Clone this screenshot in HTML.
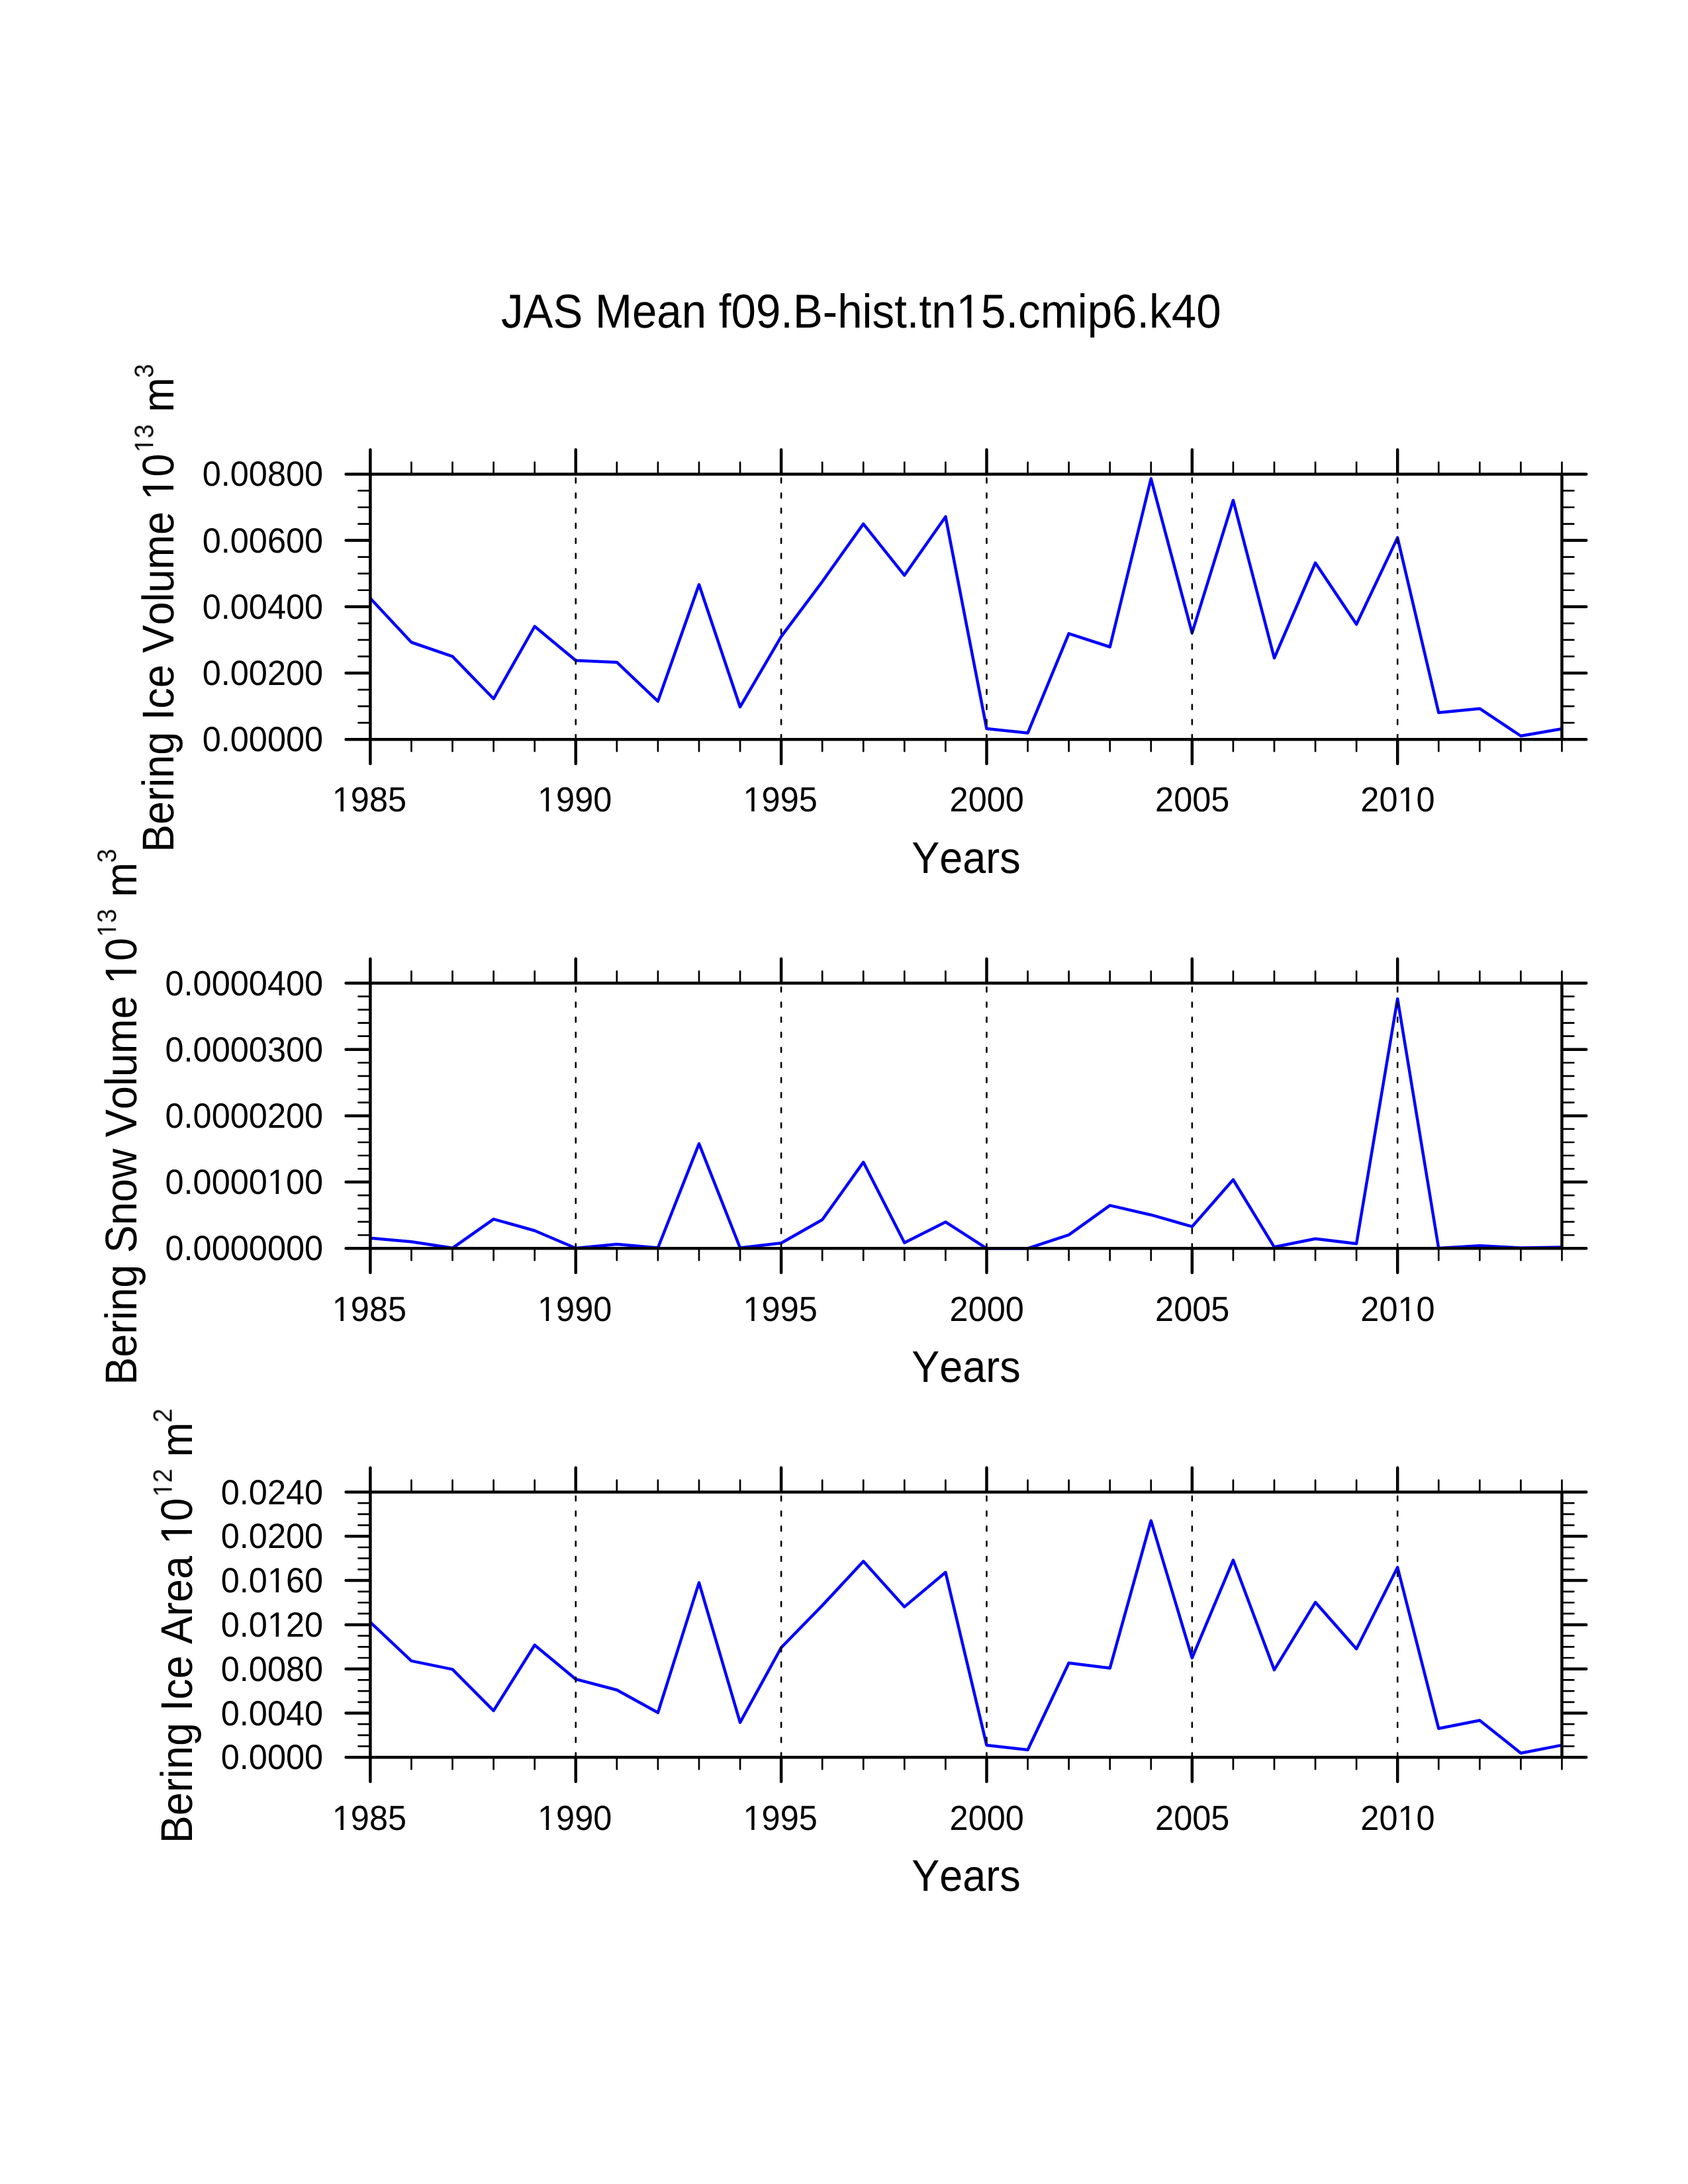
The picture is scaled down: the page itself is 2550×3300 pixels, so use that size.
<!DOCTYPE html><html><head><meta charset="utf-8"><title>JAS Mean f09.B-hist.tn15.cmip6.k40</title>
<style>html,body{margin:0;padding:0;background:#fff;}svg{display:block;}text{font-family:"Liberation Sans",sans-serif;font-kerning:none;fill:#000;text-rendering:geometricPrecision;}</style></head><body>
<svg width="2550" height="3300" viewBox="0 0 2550 3300">
<defs><filter id="gs" x="-20%" y="-20%" width="140%" height="140%"><feColorMatrix type="saturate" values="0"/></filter></defs><rect width="2550" height="3300" fill="#fff"/>
<g transform="translate(756.95,495.3) scale(1,1.068)"><text x="0 33.62 78.47 123.32 142 198.01 235.41 272.8 310.2 328.88 347.56 384.96 422.35 441.03 485.88 508.27 545.67 560.61 594.23 612.91 631.59 650.27 687.67 725.06 762.46 781.14 814.76 870.77 885.71 923.11 960.5 979.18 1012.8 1050.2" y="0" font-size="67.24">JAS Mean f09.B-hist.tn15.cmip6.k40</text><rect x="691.48" y="-6.57" width="13.1" height="7.55" fill="#fff"/><rect x="710.52" y="-6.57" width="12.57" height="7.55" fill="#fff"/></g>
<polyline points="559.4,904 621.47,970.5 683.54,991.9 745.62,1055.8 807.69,946.5 869.76,998.1 931.83,1000.7 993.91,1059.6 1055.98,883.3 1118.05,1068.2 1180.12,961.9 1242.2,878.8 1304.27,791.6 1366.34,869.3 1428.41,780.7 1490.49,1101 1552.56,1107.6 1614.63,957.3 1676.7,977.5 1738.78,723.3 1800.85,956.3 1862.92,756 1924.99,994.3 1987.07,850.5 2049.14,943.3 2111.21,812.4 2173.28,1076.8 2235.36,1070.7 2297.43,1112 2359.5,1101.3" fill="none" stroke="#0000ff" stroke-width="4.5" stroke-linejoin="round"/>
<line x1="869.76" y1="722.6" x2="869.76" y2="1116.2" stroke="#000" stroke-width="2.6" stroke-linecap="round" stroke-dasharray="6.9 15.91"/>
<line x1="1180.12" y1="722.6" x2="1180.12" y2="1116.2" stroke="#000" stroke-width="2.6" stroke-linecap="round" stroke-dasharray="6.9 15.91"/>
<line x1="1490.49" y1="722.6" x2="1490.49" y2="1116.2" stroke="#000" stroke-width="2.6" stroke-linecap="round" stroke-dasharray="6.9 15.91"/>
<line x1="1800.85" y1="722.6" x2="1800.85" y2="1116.2" stroke="#000" stroke-width="2.6" stroke-linecap="round" stroke-dasharray="6.9 15.91"/>
<line x1="2111.21" y1="722.6" x2="2111.21" y2="1116.2" stroke="#000" stroke-width="2.6" stroke-linecap="round" stroke-dasharray="6.9 15.91"/>
<path d="M621.47 716.4v-17.9M621.47 1117.2v17.9M683.54 716.4v-17.9M683.54 1117.2v17.9M745.62 716.4v-17.9M745.62 1117.2v17.9M807.69 716.4v-17.9M807.69 1117.2v17.9M931.83 716.4v-17.9M931.83 1117.2v17.9M993.91 716.4v-17.9M993.91 1117.2v17.9M1055.98 716.4v-17.9M1055.98 1117.2v17.9M1118.05 716.4v-17.9M1118.05 1117.2v17.9M1242.2 716.4v-17.9M1242.2 1117.2v17.9M1304.27 716.4v-17.9M1304.27 1117.2v17.9M1366.34 716.4v-17.9M1366.34 1117.2v17.9M1428.41 716.4v-17.9M1428.41 1117.2v17.9M1552.56 716.4v-17.9M1552.56 1117.2v17.9M1614.63 716.4v-17.9M1614.63 1117.2v17.9M1676.7 716.4v-17.9M1676.7 1117.2v17.9M1738.78 716.4v-17.9M1738.78 1117.2v17.9M1862.92 716.4v-17.9M1862.92 1117.2v17.9M1924.99 716.4v-17.9M1924.99 1117.2v17.9M1987.07 716.4v-17.9M1987.07 1117.2v17.9M2049.14 716.4v-17.9M2049.14 1117.2v17.9M2173.28 716.4v-17.9M2173.28 1117.2v17.9M2235.36 716.4v-17.9M2235.36 1117.2v17.9M2297.43 716.4v-17.9M2297.43 1117.2v17.9M2359.5 716.4v-17.9M2359.5 1117.2v17.9M559.4 1092.15h-17.9M2359.5 1092.15h17.9M559.4 1067.1h-17.9M2359.5 1067.1h17.9M559.4 1042.05h-17.9M2359.5 1042.05h17.9M559.4 991.95h-17.9M2359.5 991.95h17.9M559.4 966.9h-17.9M2359.5 966.9h17.9M559.4 941.85h-17.9M2359.5 941.85h17.9M559.4 891.75h-17.9M2359.5 891.75h17.9M559.4 866.7h-17.9M2359.5 866.7h17.9M559.4 841.65h-17.9M2359.5 841.65h17.9M559.4 791.55h-17.9M2359.5 791.55h17.9M559.4 766.5h-17.9M2359.5 766.5h17.9M559.4 741.45h-17.9M2359.5 741.45h17.9" stroke="#000" stroke-width="2.7" stroke-linecap="round" fill="none"/>
<path d="M559.4 716.4v-36.8M559.4 1117.2v36.8M869.76 716.4v-36.8M869.76 1117.2v36.8M1180.12 716.4v-36.8M1180.12 1117.2v36.8M1490.49 716.4v-36.8M1490.49 1117.2v36.8M1800.85 716.4v-36.8M1800.85 1117.2v36.8M2111.21 716.4v-36.8M2111.21 1117.2v36.8M559.4 1117.2h-36.8M2359.5 1117.2h36.8M559.4 1017h-36.8M2359.5 1017h36.8M559.4 916.8h-36.8M2359.5 916.8h36.8M559.4 816.6h-36.8M2359.5 816.6h36.8M559.4 716.4h-36.8M2359.5 716.4h36.8M559.4 716.4H2359.5 V1117.2 H559.4 Z" stroke="#000" stroke-width="4.5" stroke-linecap="round" stroke-linejoin="miter" fill="none"/>
<g transform="translate(488.2,734.4) scale(1,1.053)"><text x="-182.54 -154.46 -140.43 -112.34 -84.26 -56.17 -28.09" y="0" font-size="50.5">0.00800</text></g>
<g transform="translate(488.2,834.6) scale(1,1.053)"><text x="-182.54 -154.46 -140.43 -112.34 -84.26 -56.17 -28.09" y="0" font-size="50.5">0.00600</text></g>
<g transform="translate(488.2,934.8) scale(1,1.053)"><text x="-182.54 -154.46 -140.43 -112.34 -84.26 -56.17 -28.09" y="0" font-size="50.5">0.00400</text></g>
<g transform="translate(488.2,1035) scale(1,1.053)"><text x="-182.54 -154.46 -140.43 -112.34 -84.26 -56.17 -28.09" y="0" font-size="50.5">0.00200</text></g>
<g transform="translate(488.2,1135.2) scale(1,1.053)"><text x="-182.54 -154.46 -140.43 -112.34 -84.26 -56.17 -28.09" y="0" font-size="50.5">0.00000</text></g>
<g transform="translate(557.91,1226.4) scale(1,1.042)"><text x="-56.17 -28.09 0 28.09" y="0" font-size="50.5">1985</text><rect x="-53.31" y="-4.93" width="9.84" height="5.67" fill="#fff"/><rect x="-39.01" y="-4.93" width="9.44" height="5.67" fill="#fff"/></g>
<g transform="translate(868.15,1226.4) scale(1,1.042)"><text x="-56.17 -28.09 0 28.09" y="0" font-size="50.5">1990</text><rect x="-53.31" y="-4.93" width="9.84" height="5.67" fill="#fff"/><rect x="-39.01" y="-4.93" width="9.44" height="5.67" fill="#fff"/></g>
<g transform="translate(1178.63,1226.4) scale(1,1.042)"><text x="-56.17 -28.09 0 28.09" y="0" font-size="50.5">1995</text><rect x="-53.31" y="-4.93" width="9.84" height="5.67" fill="#fff"/><rect x="-39.01" y="-4.93" width="9.44" height="5.67" fill="#fff"/></g>
<g transform="translate(1490.76,1226.4) scale(1,1.042)"><text x="-56.17 -28.09 0 28.09" y="0" font-size="50.5">2000</text></g>
<g transform="translate(1801.25,1226.4) scale(1,1.042)"><text x="-56.17 -28.09 0 28.09" y="0" font-size="50.5">2005</text></g>
<g transform="translate(2111.49,1226.4) scale(1,1.042)"><text x="-56.17 -28.09 0 28.09" y="0" font-size="50.5">2010</text><rect x="2.86" y="-4.93" width="9.84" height="5.67" fill="#fff"/><rect x="17.16" y="-4.93" width="9.44" height="5.67" fill="#fff"/></g>
<g transform="translate(1459.45,1318.5) scale(1,1.061)"><text x="-82.29 -40.27 -5.23 29.81 50.79" y="0" font-size="63">Years</text></g>
<g transform="translate(262.3,1287.77) rotate(-90)">
<g transform="translate(0,0) scale(1,1.066)"><text x="0 42.02 77.06 98.04 112.03 147.07 182.11 199.61 217.12 248.62 283.65 301.16 343.18 378.22 392.21 427.25 479.73 514.77 532.27 567.31" y="0" font-size="63">Bering Ice Volume 10</text><rect x="535.84" y="-6.15" width="12.27" height="7.08" fill="#fff"/><rect x="553.68" y="-6.15" width="11.78" height="7.08" fill="#fff"/></g>
<g transform="translate(604.3,-31) scale(1,1.056)"><text x="0 21.13" y="0" font-size="38" filter="url(#gs)">13</text><rect x="2.15" y="-3.71" width="7.4" height="4.27" fill="#fff"/><rect x="12.91" y="-3.71" width="7.11" height="4.27" fill="#fff"/></g>
<g transform="translate(665.1,0) scale(1,1.066)"><text x="0" y="0" font-size="63">m</text></g>
<g transform="translate(716.7,-31) scale(1,1.056)"><text x="0" y="0" font-size="38" filter="url(#gs)">3</text></g>
</g>
<polyline points="559.4,1870.7 621.47,1876.2 683.54,1885.8 745.62,1842.1 807.69,1859.5 869.76,1886 931.83,1879.9 993.91,1885.5 1055.98,1728.1 1118.05,1885.5 1180.12,1878.3 1242.2,1843 1304.27,1756.1 1366.34,1877.8 1428.41,1846.4 1490.49,1886.3 1552.56,1886.3 1614.63,1865.9 1676.7,1821.4 1738.78,1835.7 1800.85,1853.4 1862.92,1782.5 1924.99,1884.3 1987.07,1871.7 2049.14,1879.2 2111.21,1509.2 2173.28,1886 2235.36,1882.3 2297.43,1885.6 2359.5,1884.6" fill="none" stroke="#0000ff" stroke-width="4.5" stroke-linejoin="round"/>
<line x1="869.76" y1="1491.7" x2="869.76" y2="1885.3" stroke="#000" stroke-width="2.6" stroke-linecap="round" stroke-dasharray="6.9 15.91"/>
<line x1="1180.12" y1="1491.7" x2="1180.12" y2="1885.3" stroke="#000" stroke-width="2.6" stroke-linecap="round" stroke-dasharray="6.9 15.91"/>
<line x1="1490.49" y1="1491.7" x2="1490.49" y2="1885.3" stroke="#000" stroke-width="2.6" stroke-linecap="round" stroke-dasharray="6.9 15.91"/>
<line x1="1800.85" y1="1491.7" x2="1800.85" y2="1885.3" stroke="#000" stroke-width="2.6" stroke-linecap="round" stroke-dasharray="6.9 15.91"/>
<line x1="2111.21" y1="1491.7" x2="2111.21" y2="1885.3" stroke="#000" stroke-width="2.6" stroke-linecap="round" stroke-dasharray="6.9 15.91"/>
<path d="M621.47 1485.5v-17.9M621.47 1886.3v17.9M683.54 1485.5v-17.9M683.54 1886.3v17.9M745.62 1485.5v-17.9M745.62 1886.3v17.9M807.69 1485.5v-17.9M807.69 1886.3v17.9M931.83 1485.5v-17.9M931.83 1886.3v17.9M993.91 1485.5v-17.9M993.91 1886.3v17.9M1055.98 1485.5v-17.9M1055.98 1886.3v17.9M1118.05 1485.5v-17.9M1118.05 1886.3v17.9M1242.2 1485.5v-17.9M1242.2 1886.3v17.9M1304.27 1485.5v-17.9M1304.27 1886.3v17.9M1366.34 1485.5v-17.9M1366.34 1886.3v17.9M1428.41 1485.5v-17.9M1428.41 1886.3v17.9M1552.56 1485.5v-17.9M1552.56 1886.3v17.9M1614.63 1485.5v-17.9M1614.63 1886.3v17.9M1676.7 1485.5v-17.9M1676.7 1886.3v17.9M1738.78 1485.5v-17.9M1738.78 1886.3v17.9M1862.92 1485.5v-17.9M1862.92 1886.3v17.9M1924.99 1485.5v-17.9M1924.99 1886.3v17.9M1987.07 1485.5v-17.9M1987.07 1886.3v17.9M2049.14 1485.5v-17.9M2049.14 1886.3v17.9M2173.28 1485.5v-17.9M2173.28 1886.3v17.9M2235.36 1485.5v-17.9M2235.36 1886.3v17.9M2297.43 1485.5v-17.9M2297.43 1886.3v17.9M2359.5 1485.5v-17.9M2359.5 1886.3v17.9M559.4 1866.26h-17.9M2359.5 1866.26h17.9M559.4 1846.22h-17.9M2359.5 1846.22h17.9M559.4 1826.18h-17.9M2359.5 1826.18h17.9M559.4 1806.14h-17.9M2359.5 1806.14h17.9M559.4 1766.06h-17.9M2359.5 1766.06h17.9M559.4 1746.02h-17.9M2359.5 1746.02h17.9M559.4 1725.98h-17.9M2359.5 1725.98h17.9M559.4 1705.94h-17.9M2359.5 1705.94h17.9M559.4 1665.86h-17.9M2359.5 1665.86h17.9M559.4 1645.82h-17.9M2359.5 1645.82h17.9M559.4 1625.78h-17.9M2359.5 1625.78h17.9M559.4 1605.74h-17.9M2359.5 1605.74h17.9M559.4 1565.66h-17.9M2359.5 1565.66h17.9M559.4 1545.62h-17.9M2359.5 1545.62h17.9M559.4 1525.58h-17.9M2359.5 1525.58h17.9M559.4 1505.54h-17.9M2359.5 1505.54h17.9" stroke="#000" stroke-width="2.7" stroke-linecap="round" fill="none"/>
<path d="M559.4 1485.5v-36.8M559.4 1886.3v36.8M869.76 1485.5v-36.8M869.76 1886.3v36.8M1180.12 1485.5v-36.8M1180.12 1886.3v36.8M1490.49 1485.5v-36.8M1490.49 1886.3v36.8M1800.85 1485.5v-36.8M1800.85 1886.3v36.8M2111.21 1485.5v-36.8M2111.21 1886.3v36.8M559.4 1886.3h-36.8M2359.5 1886.3h36.8M559.4 1786.1h-36.8M2359.5 1786.1h36.8M559.4 1685.9h-36.8M2359.5 1685.9h36.8M559.4 1585.7h-36.8M2359.5 1585.7h36.8M559.4 1485.5h-36.8M2359.5 1485.5h36.8M559.4 1485.5H2359.5 V1886.3 H559.4 Z" stroke="#000" stroke-width="4.5" stroke-linecap="round" stroke-linejoin="miter" fill="none"/>
<g transform="translate(488.2,1503.5) scale(1,1.053)"><text x="-238.72 -210.63 -196.6 -168.51 -140.43 -112.34 -84.26 -56.17 -28.09" y="0" font-size="50.5">0.0000400</text></g>
<g transform="translate(488.2,1603.7) scale(1,1.053)"><text x="-238.72 -210.63 -196.6 -168.51 -140.43 -112.34 -84.26 -56.17 -28.09" y="0" font-size="50.5">0.0000300</text></g>
<g transform="translate(488.2,1703.9) scale(1,1.053)"><text x="-238.72 -210.63 -196.6 -168.51 -140.43 -112.34 -84.26 -56.17 -28.09" y="0" font-size="50.5">0.0000200</text></g>
<g transform="translate(488.2,1804.1) scale(1,1.053)"><text x="-238.72 -210.63 -196.6 -168.51 -140.43 -112.34 -84.26 -56.17 -28.09" y="0" font-size="50.5">0.0000100</text><rect x="-81.4" y="-4.93" width="9.84" height="5.67" fill="#fff"/><rect x="-67.09" y="-4.93" width="9.44" height="5.67" fill="#fff"/></g>
<g transform="translate(488.2,1904.3) scale(1,1.053)"><text x="-238.72 -210.63 -196.6 -168.51 -140.43 -112.34 -84.26 -56.17 -28.09" y="0" font-size="50.5">0.0000000</text></g>
<g transform="translate(557.91,1995.5) scale(1,1.042)"><text x="-56.17 -28.09 0 28.09" y="0" font-size="50.5">1985</text><rect x="-53.31" y="-4.93" width="9.84" height="5.67" fill="#fff"/><rect x="-39.01" y="-4.93" width="9.44" height="5.67" fill="#fff"/></g>
<g transform="translate(868.15,1995.5) scale(1,1.042)"><text x="-56.17 -28.09 0 28.09" y="0" font-size="50.5">1990</text><rect x="-53.31" y="-4.93" width="9.84" height="5.67" fill="#fff"/><rect x="-39.01" y="-4.93" width="9.44" height="5.67" fill="#fff"/></g>
<g transform="translate(1178.63,1995.5) scale(1,1.042)"><text x="-56.17 -28.09 0 28.09" y="0" font-size="50.5">1995</text><rect x="-53.31" y="-4.93" width="9.84" height="5.67" fill="#fff"/><rect x="-39.01" y="-4.93" width="9.44" height="5.67" fill="#fff"/></g>
<g transform="translate(1490.76,1995.5) scale(1,1.042)"><text x="-56.17 -28.09 0 28.09" y="0" font-size="50.5">2000</text></g>
<g transform="translate(1801.25,1995.5) scale(1,1.042)"><text x="-56.17 -28.09 0 28.09" y="0" font-size="50.5">2005</text></g>
<g transform="translate(2111.49,1995.5) scale(1,1.042)"><text x="-56.17 -28.09 0 28.09" y="0" font-size="50.5">2010</text><rect x="2.86" y="-4.93" width="9.84" height="5.67" fill="#fff"/><rect x="17.16" y="-4.93" width="9.44" height="5.67" fill="#fff"/></g>
<g transform="translate(1459.45,2087.6) scale(1,1.061)"><text x="-82.29 -40.27 -5.23 29.81 50.79" y="0" font-size="63">Years</text></g>
<g transform="translate(206,2092.87) rotate(-90)">
<g transform="translate(0,0) scale(1,1.066)"><text x="0 42.02 77.06 98.04 112.03 147.07 182.11 199.61 241.63 276.67 311.71 357.21 374.71 416.73 451.77 465.76 500.8 553.28 588.32 605.82 640.86" y="0" font-size="63">Bering Snow Volume 10</text><rect x="609.39" y="-6.15" width="12.27" height="7.08" fill="#fff"/><rect x="627.23" y="-6.15" width="11.78" height="7.08" fill="#fff"/></g>
<g transform="translate(677.2,-30.9) scale(1,1.056)"><text x="0 21.13" y="0" font-size="38" filter="url(#gs)">13</text><rect x="2.15" y="-3.71" width="7.4" height="4.27" fill="#fff"/><rect x="12.91" y="-3.71" width="7.11" height="4.27" fill="#fff"/></g>
<g transform="translate(737.4,0) scale(1,1.066)"><text x="0" y="0" font-size="63">m</text></g>
<g transform="translate(789.2,-30.9) scale(1,1.056)"><text x="0" y="0" font-size="38" filter="url(#gs)">3</text></g>
</g>
<polyline points="559.4,2451.2 621.47,2509.6 683.54,2522.4 745.62,2584.9 807.69,2485.7 869.76,2537.2 931.83,2553.5 993.91,2587.8 1055.98,2391.4 1118.05,2602.7 1180.12,2489.5 1242.2,2425.9 1304.27,2359.1 1366.34,2427.9 1428.41,2375.8 1490.49,2636.9 1552.56,2644 1614.63,2512.8 1676.7,2520.6 1738.78,2297.7 1800.85,2505.2 1862.92,2357.3 1924.99,2523.2 1987.07,2421.1 2049.14,2491.4 2111.21,2368.2 2173.28,2611.8 2235.36,2599.5 2297.43,2649 2359.5,2636.9" fill="none" stroke="#0000ff" stroke-width="4.5" stroke-linejoin="round"/>
<line x1="869.76" y1="2260.7" x2="869.76" y2="2654.3" stroke="#000" stroke-width="2.6" stroke-linecap="round" stroke-dasharray="6.9 15.91"/>
<line x1="1180.12" y1="2260.7" x2="1180.12" y2="2654.3" stroke="#000" stroke-width="2.6" stroke-linecap="round" stroke-dasharray="6.9 15.91"/>
<line x1="1490.49" y1="2260.7" x2="1490.49" y2="2654.3" stroke="#000" stroke-width="2.6" stroke-linecap="round" stroke-dasharray="6.9 15.91"/>
<line x1="1800.85" y1="2260.7" x2="1800.85" y2="2654.3" stroke="#000" stroke-width="2.6" stroke-linecap="round" stroke-dasharray="6.9 15.91"/>
<line x1="2111.21" y1="2260.7" x2="2111.21" y2="2654.3" stroke="#000" stroke-width="2.6" stroke-linecap="round" stroke-dasharray="6.9 15.91"/>
<path d="M621.47 2254.5v-17.9M621.47 2655.3v17.9M683.54 2254.5v-17.9M683.54 2655.3v17.9M745.62 2254.5v-17.9M745.62 2655.3v17.9M807.69 2254.5v-17.9M807.69 2655.3v17.9M931.83 2254.5v-17.9M931.83 2655.3v17.9M993.91 2254.5v-17.9M993.91 2655.3v17.9M1055.98 2254.5v-17.9M1055.98 2655.3v17.9M1118.05 2254.5v-17.9M1118.05 2655.3v17.9M1242.2 2254.5v-17.9M1242.2 2655.3v17.9M1304.27 2254.5v-17.9M1304.27 2655.3v17.9M1366.34 2254.5v-17.9M1366.34 2655.3v17.9M1428.41 2254.5v-17.9M1428.41 2655.3v17.9M1552.56 2254.5v-17.9M1552.56 2655.3v17.9M1614.63 2254.5v-17.9M1614.63 2655.3v17.9M1676.7 2254.5v-17.9M1676.7 2655.3v17.9M1738.78 2254.5v-17.9M1738.78 2655.3v17.9M1862.92 2254.5v-17.9M1862.92 2655.3v17.9M1924.99 2254.5v-17.9M1924.99 2655.3v17.9M1987.07 2254.5v-17.9M1987.07 2655.3v17.9M2049.14 2254.5v-17.9M2049.14 2655.3v17.9M2173.28 2254.5v-17.9M2173.28 2655.3v17.9M2235.36 2254.5v-17.9M2235.36 2655.3v17.9M2297.43 2254.5v-17.9M2297.43 2655.3v17.9M2359.5 2254.5v-17.9M2359.5 2655.3v17.9M559.4 2638.6h-17.9M2359.5 2638.6h17.9M559.4 2621.9h-17.9M2359.5 2621.9h17.9M559.4 2605.2h-17.9M2359.5 2605.2h17.9M559.4 2571.8h-17.9M2359.5 2571.8h17.9M559.4 2555.1h-17.9M2359.5 2555.1h17.9M559.4 2538.4h-17.9M2359.5 2538.4h17.9M559.4 2505h-17.9M2359.5 2505h17.9M559.4 2488.3h-17.9M2359.5 2488.3h17.9M559.4 2471.6h-17.9M2359.5 2471.6h17.9M559.4 2438.2h-17.9M2359.5 2438.2h17.9M559.4 2421.5h-17.9M2359.5 2421.5h17.9M559.4 2404.8h-17.9M2359.5 2404.8h17.9M559.4 2371.4h-17.9M2359.5 2371.4h17.9M559.4 2354.7h-17.9M2359.5 2354.7h17.9M559.4 2338h-17.9M2359.5 2338h17.9M559.4 2304.6h-17.9M2359.5 2304.6h17.9M559.4 2287.9h-17.9M2359.5 2287.9h17.9M559.4 2271.2h-17.9M2359.5 2271.2h17.9" stroke="#000" stroke-width="2.7" stroke-linecap="round" fill="none"/>
<path d="M559.4 2254.5v-36.8M559.4 2655.3v36.8M869.76 2254.5v-36.8M869.76 2655.3v36.8M1180.12 2254.5v-36.8M1180.12 2655.3v36.8M1490.49 2254.5v-36.8M1490.49 2655.3v36.8M1800.85 2254.5v-36.8M1800.85 2655.3v36.8M2111.21 2254.5v-36.8M2111.21 2655.3v36.8M559.4 2655.3h-36.8M2359.5 2655.3h36.8M559.4 2588.5h-36.8M2359.5 2588.5h36.8M559.4 2521.7h-36.8M2359.5 2521.7h36.8M559.4 2454.9h-36.8M2359.5 2454.9h36.8M559.4 2388.1h-36.8M2359.5 2388.1h36.8M559.4 2321.3h-36.8M2359.5 2321.3h36.8M559.4 2254.5h-36.8M2359.5 2254.5h36.8M559.4 2254.5H2359.5 V2655.3 H559.4 Z" stroke="#000" stroke-width="4.5" stroke-linecap="round" stroke-linejoin="miter" fill="none"/>
<g transform="translate(488.2,2272.5) scale(1,1.053)"><text x="-154.46 -126.37 -112.34 -84.26 -56.17 -28.09" y="0" font-size="50.5">0.0240</text></g>
<g transform="translate(488.2,2339.3) scale(1,1.053)"><text x="-154.46 -126.37 -112.34 -84.26 -56.17 -28.09" y="0" font-size="50.5">0.0200</text></g>
<g transform="translate(488.2,2406.1) scale(1,1.053)"><text x="-154.46 -126.37 -112.34 -84.26 -56.17 -28.09" y="0" font-size="50.5">0.0160</text><rect x="-81.4" y="-4.93" width="9.84" height="5.67" fill="#fff"/><rect x="-67.09" y="-4.93" width="9.44" height="5.67" fill="#fff"/></g>
<g transform="translate(488.2,2472.9) scale(1,1.053)"><text x="-154.46 -126.37 -112.34 -84.26 -56.17 -28.09" y="0" font-size="50.5">0.0120</text><rect x="-81.4" y="-4.93" width="9.84" height="5.67" fill="#fff"/><rect x="-67.09" y="-4.93" width="9.44" height="5.67" fill="#fff"/></g>
<g transform="translate(488.2,2539.7) scale(1,1.053)"><text x="-154.46 -126.37 -112.34 -84.26 -56.17 -28.09" y="0" font-size="50.5">0.0080</text></g>
<g transform="translate(488.2,2606.5) scale(1,1.053)"><text x="-154.46 -126.37 -112.34 -84.26 -56.17 -28.09" y="0" font-size="50.5">0.0040</text></g>
<g transform="translate(488.2,2673.3) scale(1,1.053)"><text x="-154.46 -126.37 -112.34 -84.26 -56.17 -28.09" y="0" font-size="50.5">0.0000</text></g>
<g transform="translate(557.91,2764.5) scale(1,1.042)"><text x="-56.17 -28.09 0 28.09" y="0" font-size="50.5">1985</text><rect x="-53.31" y="-4.93" width="9.84" height="5.67" fill="#fff"/><rect x="-39.01" y="-4.93" width="9.44" height="5.67" fill="#fff"/></g>
<g transform="translate(868.15,2764.5) scale(1,1.042)"><text x="-56.17 -28.09 0 28.09" y="0" font-size="50.5">1990</text><rect x="-53.31" y="-4.93" width="9.84" height="5.67" fill="#fff"/><rect x="-39.01" y="-4.93" width="9.44" height="5.67" fill="#fff"/></g>
<g transform="translate(1178.63,2764.5) scale(1,1.042)"><text x="-56.17 -28.09 0 28.09" y="0" font-size="50.5">1995</text><rect x="-53.31" y="-4.93" width="9.84" height="5.67" fill="#fff"/><rect x="-39.01" y="-4.93" width="9.44" height="5.67" fill="#fff"/></g>
<g transform="translate(1490.76,2764.5) scale(1,1.042)"><text x="-56.17 -28.09 0 28.09" y="0" font-size="50.5">2000</text></g>
<g transform="translate(1801.25,2764.5) scale(1,1.042)"><text x="-56.17 -28.09 0 28.09" y="0" font-size="50.5">2005</text></g>
<g transform="translate(2111.49,2764.5) scale(1,1.042)"><text x="-56.17 -28.09 0 28.09" y="0" font-size="50.5">2010</text><rect x="2.86" y="-4.93" width="9.84" height="5.67" fill="#fff"/><rect x="17.16" y="-4.93" width="9.44" height="5.67" fill="#fff"/></g>
<g transform="translate(1459.45,2856.6) scale(1,1.061)"><text x="-82.29 -40.27 -5.23 29.81 50.79" y="0" font-size="63">Years</text></g>
<g transform="translate(290.1,2785.17) rotate(-90)">
<g transform="translate(0,0) scale(1,1.066)"><text x="0 42.02 77.06 98.04 112.03 147.07 182.11 199.61 217.12 248.62 283.65 301.16 343.18 364.16 399.19 434.23 451.74 486.77" y="0" font-size="63">Bering Ice Area 10</text><rect x="455.3" y="-6.15" width="12.27" height="7.08" fill="#fff"/><rect x="473.15" y="-6.15" width="11.78" height="7.08" fill="#fff"/></g>
<g transform="translate(523.6,-30.6) scale(1,1.056)"><text x="0 21.13" y="0" font-size="38" filter="url(#gs)">12</text><rect x="2.15" y="-3.71" width="7.4" height="4.27" fill="#fff"/><rect x="12.91" y="-3.71" width="7.11" height="4.27" fill="#fff"/></g>
<g transform="translate(583.6,0) scale(1,1.066)"><text x="0" y="0" font-size="63">m</text></g>
<g transform="translate(635.7,-30.6) scale(1,1.056)"><text x="0" y="0" font-size="38" filter="url(#gs)">2</text></g>
</g>
</svg></body></html>
